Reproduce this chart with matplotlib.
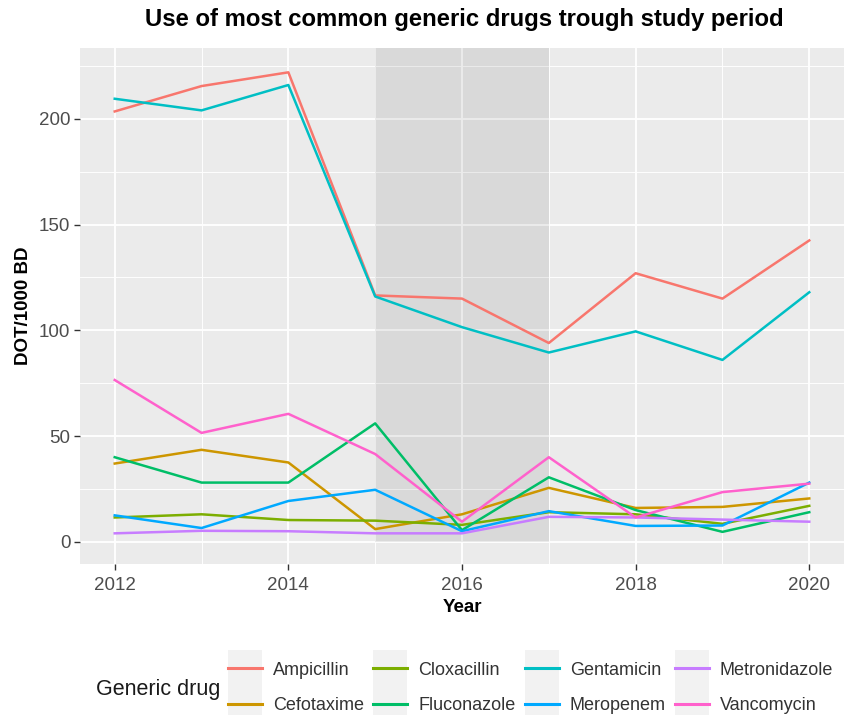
import numpy as np
import matplotlib.pyplot as plt
from matplotlib.patches import Rectangle
from matplotlib.ticker import MultipleLocator

plt.rcParams['font.family'] = ['Liberation Sans', 'DejaVu Sans']

years = [2012, 2013, 2014, 2015, 2016, 2017, 2018, 2019, 2020]

drugs = ['Ampicillin', 'Cefotaxime', 'Cloxacillin', 'Fluconazole',
         'Gentamicin', 'Meropenem', 'Metronidazole', 'Vancomycin']

ampicillin = [203.5, 215.5, 222, 116.5, 115, 94, 127, 115, 142.5]
cefotaxime = [37, 43.5, 37.5, 6, 13, 25.5, 16, 16.5, 20.5]
cloxacillin = [11.5, 13, 10.3, 10, 8, 14, 13, 8.5, 17]
fluconazole = [40, 28, 28, 56, 5.5, 30.5, 15, 4.7, 14]
gentamicin = [209.5, 204, 216, 116, 101.5, 89.5, 99.5, 86, 118]
meropenem = [12.5, 6.5, 19.3, 24.6, 5, 14.5, 7.5, 7.7, 28]
metronidazole = [4, 5.2, 5, 4, 4, 11.8, 11.5, 10.5, 9.5]
vancomycin = [76.5, 51.5, 60.5, 41.5, 9.5, 40, 11.5, 23.5, 27.5]

series = [ampicillin, cefotaxime, cloxacillin, fluconazole,
          gentamicin, meropenem, metronidazole, vancomycin]
colors = ['#F8766D', '#CD9600', '#7CAE00', '#00BE67',
          '#00BFC4', '#00A9FF', '#C77CFF', '#FF61CC']

# study period shading
shade_start, shade_end, shade_bottom = 2015, 2017, 0

W, H = 851, 715
fig = plt.figure(figsize=(W / 100, H / 100), dpi=100)
ax = fig.add_axes([80 / W, 1 - 564 / H, (844 - 80) / W, (564 - 48) / H])
ax.set_facecolor('#EBEBEB')
for s in ax.spines.values():
    s.set_visible(False)

ax.xaxis.set_major_locator(MultipleLocator(2))
ax.xaxis.set_minor_locator(MultipleLocator(1))
ax.yaxis.set_major_locator(MultipleLocator(50))
ax.yaxis.set_minor_locator(MultipleLocator(25))
ax.grid(which='major', color='white', linewidth=1.3, zorder=0)
ax.grid(which='minor', color='white', linewidth=0.65, zorder=0)
ax.set_axisbelow(True)

ax.fill_between([shade_start, shade_end], shade_bottom, 1000,
                color='black', alpha=0.075, linewidth=0, zorder=1)

for name, vals, c in zip(drugs, series, colors):
    ax.plot(years, vals, color=c, linewidth=1.8, label=name, zorder=3)

ax.set_xlim(2011.6, 2020.4)
ax.set_ylim(-10.5, 233.5)

ax.tick_params(which='major', length=4, width=1, color='#333333',
               labelcolor='#4D4D4D', labelsize=13.5)
ax.tick_params(axis='x', which='major', pad=5)
ax.tick_params(axis='y', which='major', pad=3)
ax.tick_params(which='minor', length=0)
ax.set_xlabel('Year', fontsize=13.5, fontweight='bold', labelpad=4)
ax.set_ylabel('DOT/1000 BD', fontsize=13.5, fontweight='bold', labelpad=5)

fig.text(464 / W, 1 - 26 / H, 'Use of most common generic drugs trough study period',
         ha='center', va='baseline', fontsize=17.2, fontweight='bold')

handles, labels = ax.get_legend_handles_labels()
leg = fig.legend(handles, labels, ncol=4, loc='center left',
                 bbox_to_anchor=(228 / W, 1 - 688 / H), frameon=False,
                 fontsize=13, handlelength=1.9, handletextpad=0.6,
                 columnspacing=0.5, labelspacing=1.05, borderpad=0,
                 borderaxespad=0)
for t in leg.get_texts():
    t.set_color('#333333')
for h in leg.legend_handles:
    h.set_linewidth(2.2)

fig.text(96 / W, 1 - 690 / H, 'Generic drug', ha='left', va='center',
         fontsize=15.5, color='#1A1A1A')

# grey key backgrounds behind legend handles
fig.canvas.draw()
ext = [h.get_window_extent() for h in leg.legend_handles]
pitch = abs(ext[0].y0 - ext[1].y0)
for e in ext:
    yc = (e.y0 + e.y1) / 2
    r = Rectangle((e.x0 / W, (yc - pitch / 2) / H), e.width / W, pitch / H,
                  transform=fig.transFigure, facecolor='#F2F2F2',
                  edgecolor='none', zorder=-1)
    fig.patches.append(r)

fig.savefig('out.png', dpi=100)
